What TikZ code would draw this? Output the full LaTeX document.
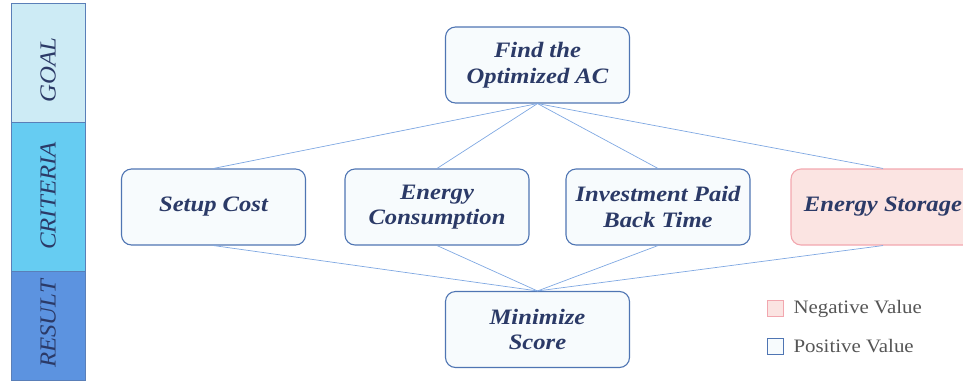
\documentclass[tikz,border=0pt]{standalone}
\usepackage{fontspec}
\setmainfont{Liberation Serif}
\definecolor{inkblue}{HTML}{2B3A67}
\definecolor{boxline}{HTML}{4F75B3}
\definecolor{boxfill}{HTML}{F7FBFD}
\definecolor{negline}{HTML}{F2A7AF}
\definecolor{negfill}{HTML}{FBE4E2}
\definecolor{linkblue}{HTML}{7FA8E2}
\definecolor{goalfill}{HTML}{CDEBF5}
\definecolor{critfill}{HTML}{66CCF2}
\definecolor{resfill}{HTML}{5C93E0}
\definecolor{barline}{HTML}{5A7FB8}
\definecolor{legendtext}{HTML}{555555}
\tikzset{
  hbox/.style={draw=boxline, fill=boxfill, line width=1.1pt, rounded corners=10pt,
    minimum width=184pt, minimum height=76pt, align=center, text=inkblue,
    font=\fontsize{22}{25.5}\selectfont\bfseries\itshape\addfontfeature{FakeStretch=1.12}, inner sep=2pt},
  negbox/.style={hbox, draw=negline, fill=negfill},
  link/.style={draw=linkblue, line width=0.7pt},
  band/.style={draw=barline, line width=1pt},
  bandlabel/.style={rotate=90, text=inkblue, font=\fontsize{23}{26}\selectfont\itshape\addfontfeature{FakeStretch=1.08}},
  legendsq/.style={line width=1pt, minimum width=16pt, minimum height=16pt, inner sep=0pt},
  legendlabel/.style={anchor=west, text=legendtext, font=\fontsize{19}{22}\selectfont\addfontfeature{FakeStretch=1.1}}
}
\begin{document}
\begin{tikzpicture}[x=1pt, y=-1pt]
\useasboundingbox (0,0) rectangle (963,381);
% level bands on the left
\draw[band, fill=goalfill] (11,3) rectangle (85,122);
\draw[band, fill=critfill] (11,122) rectangle (85,271);
\draw[band, fill=resfill] (11,271) rectangle (85,380);
\node[bandlabel] (goallbl) at (48,70) {GOAL};
\node[bandlabel] (critlbl) at (48,196) {CRITERIA};
\node[bandlabel] (reslbl) at (48,324) {RESULT};
% hierarchy boxes
\node[hbox] (goal) at (537.5,65) {Find the\\Optimized AC};
\node[hbox] (setup) at (213.5,207) {Setup Cost};
\node[hbox] (energy) at (437,207) {Energy\\Consumption};
\node[hbox] (payback) at (658,207) {Investment Paid\\Back Time};
\node[negbox] (storage) at (883,207) {Energy Storage};
\node[hbox] (score) at (537.5,329.5) {Minimize\\Score};
% connectors
\foreach \c in {setup,energy,payback,storage}{
  \draw[link] (goal.south) -- (\c.north);
  \draw[link] (\c.south) -- (score.north);
}
% legend
\node[legendsq, draw=negline, fill=negfill] (negsq) at (775.5,308.5) {};
\node[legendlabel] (neglbl) at (790,308.5) {Negative Value};
\node[legendsq, draw=boxline, fill=boxfill] (possq) at (775.5,346.5) {};
\node[legendlabel] (poslbl) at (790,346.5) {Positive Value};
\end{tikzpicture}
\end{document}
